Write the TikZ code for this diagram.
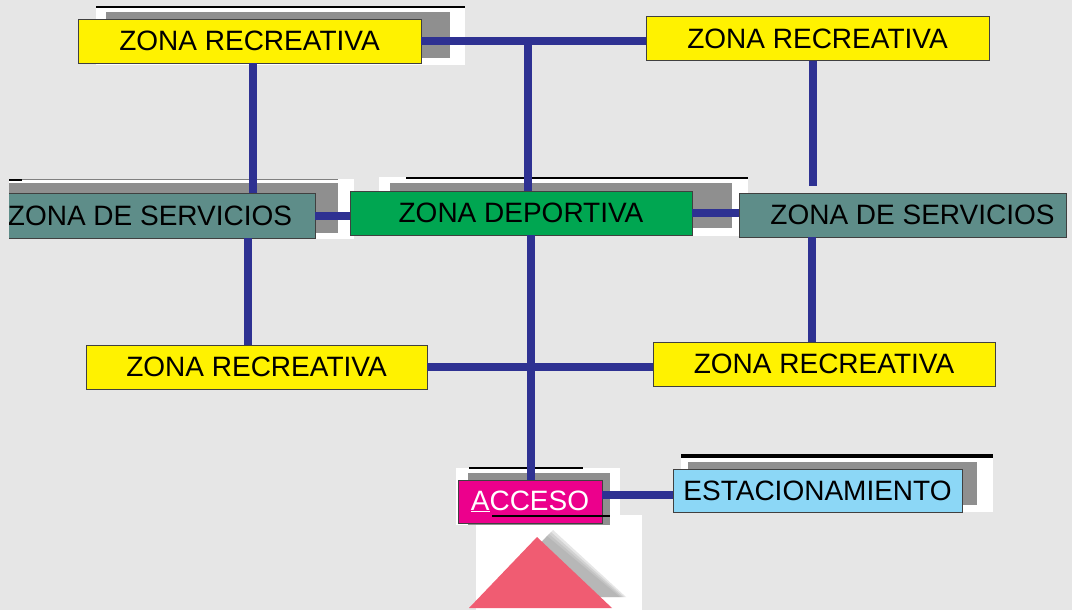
\documentclass[tikz,border=0pt]{standalone}
\usepackage{fontspec}
\setmainfont{Liberation Sans}
\definecolor{bggray}{HTML}{E6E6E6}
\definecolor{linkblue}{HTML}{2E3192}
\definecolor{yellowbox}{HTML}{FFF200}
\definecolor{greenbox}{HTML}{00A651}
\definecolor{tealbox}{HTML}{5E8D89}
\definecolor{bluebox}{HTML}{8CD7F6}
\definecolor{magentabox}{HTML}{EC008C}
\definecolor{trired}{HTML}{F05C72}
\definecolor{shadowgray}{HTML}{8F8F8F}
\begin{document}
\begin{tikzpicture}[x=1pt,y=-1pt,
  box/.style={draw=black!75, line width=0.8pt, minimum height=44pt, inner sep=0pt,
    font=\fontsize{28}{32}\selectfont, text=black},
  link/.style={draw=linkblue, line width=8pt},
  dropsh/.style={fill=shadowgray},
  paper/.style={fill=white},
  noise/.style={draw=black, line width=1.5pt}]
\fill[bggray] (0,0) rectangle (1072,610);
\useasboundingbox (0,0) rectangle (1072,610);
% white backgrounds
\fill[paper] (96,7) rectangle (465,65);
\fill[paper] (9,179) rectangle (354,239);
\fill[paper] (379,177) rectangle (748,236);
\fill[paper] (456,468) rectangle (620,525);
\fill[paper] (476,515) rectangle (642,610);
\fill[paper] (681,455) rectangle (993,512);
% thin lines on top of the white backgrounds
\draw[noise] (96,7) -- (465,7);
\draw[noise] (406,178) -- (748,178);
\draw[noise, line width=3.5pt] (681,456) -- (993,456);
\draw[noise] (469,468) -- (583,468);
\draw[noise] (9,180) -- (22,180);
\draw[draw=gray, line width=1pt] (22,179) -- (338,179);
% shadows
\fill[dropsh] (106,12) rectangle (450,58);
\fill[dropsh] (9,183) rectangle (338,233);
\fill[dropsh] (390,183) rectangle (732,228);
\fill[dropsh] (468,473) rectangle (610,525);
\fill[dropsh] (688,462) rectangle (977,505);
\foreach \d in {0,2,4,6}{
  \fill[shadowgray, opacity=0.22] (553-\d,530+\d) -- (626-\d,597) -- (487+\d,597) -- cycle;
}
% nodes
\node[box, fill=yellowbox, minimum width=343pt] (r1) at (249.5,41) {ZONA RECREATIVA};
\node[box, fill=yellowbox, minimum width=343pt] (r2) at (817.5,38.5) {ZONA RECREATIVA};
\node[box, fill=greenbox, minimum width=342pt] (dep) at (521,213) {ZONA DEPORTIVA};
\node[box, fill=tealbox, minimum width=327pt] (sR) at (902.5,215) {\hspace*{20pt}ZONA DE SERVICIOS};
\node[box, fill=yellowbox, minimum width=341pt] (m1) at (256.5,367) {ZONA RECREATIVA};
\node[box, fill=yellowbox, minimum width=342pt] (m2) at (824,364) {ZONA RECREATIVA};
\node[box, fill=magentabox, minimum width=144pt, minimum height=43pt, text=white] (acc) at (530,501.5) {\underline{A}CCESO};
\node[box, fill=bluebox, minimum width=289pt, minimum height=43pt] (est) at (817.5,490.5) {ESTACIONAMIENTO};
\begin{scope}
  \clip (9,0) rectangle (400,610);
  \node[box, fill=tealbox, minimum width=330pt, minimum height=45pt] (sL) at (150,215.5) {ZONA DE SERVICIOS};
\end{scope}
% connectors
\coordinate (j1) at (528,41);
\coordinate (c1) at (253,0);
\coordinate (c2) at (248,0);
\coordinate (c3) at (813,0);
\coordinate (c4) at (812,0);
\coordinate (c5) at (531,0);
\coordinate (c6) at (0,495);
\draw[link] (r1.east) -- (r1.east -| r2.west);
\draw[link] (j1) -- (j1 |- dep.north);
\draw[link] (c1 |- r1.south) -- (c1 |- sL.north);
\draw[link] (sL.east) -- (sL.east -| dep.west);
\draw[link] (c2 |- sL.south) -- (c2 |- m1.north);
\draw[link] (c3 |- r2.south) -- ([yshift=7pt]c3 |- sR.north);
\draw[link] (dep.east) -- (dep.east -| sR.west);
\draw[link] (c4 |- sR.south) -- (c4 |- m2.north);
\draw[link] (m1.east) -- (m1.east -| m2.west);
\draw[link] (c5 |- dep.south) -- (c5 |- acc.north);
\draw[link] (acc.east |- c6) -- (est.west |- c6);
\draw[draw=black, line width=2pt] (492,516) -- (610,516);
% triangle
\fill[trired] (537,537) -- (612,608) -- (469,608) -- cycle;
\end{tikzpicture}
\end{document}
